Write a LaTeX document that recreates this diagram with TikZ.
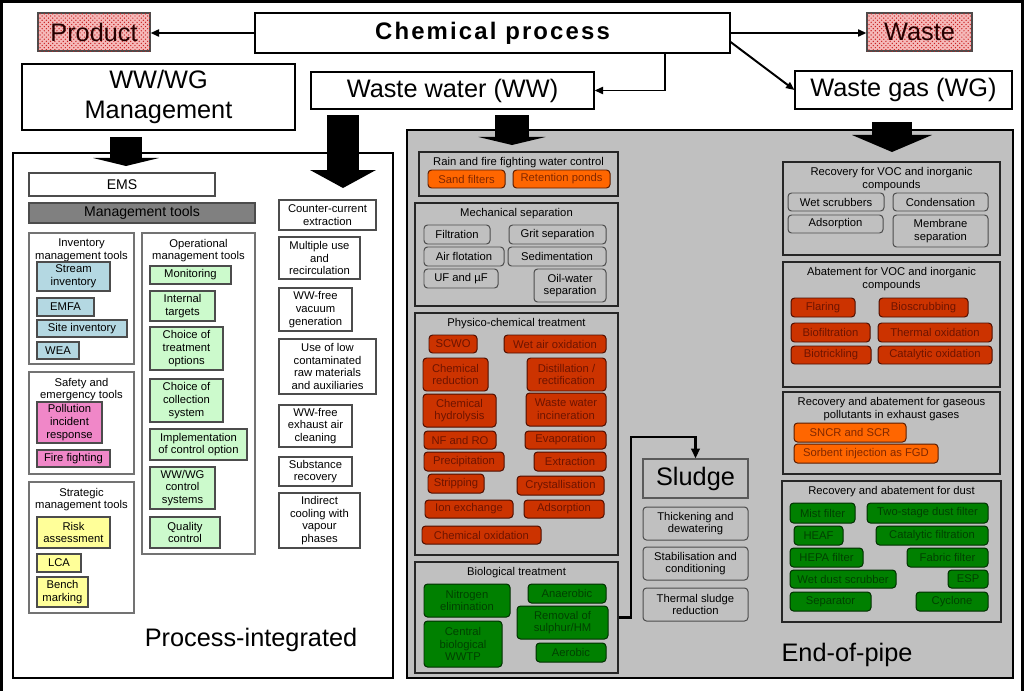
\documentclass[tikz,border=0pt]{standalone}
\usepackage{fontspec}
\setmainfont{Liberation Sans}
\usetikzlibrary{arrows.meta,patterns}

\definecolor{eopgray}{RGB}{192,192,192}
\definecolor{mgmtgray}{RGB}{128,128,128}
\definecolor{invblue}{RGB}{180,216,226}
\definecolor{safepink}{RGB}{240,135,200}
\definecolor{stratyellow}{RGB}{255,255,153}
\definecolor{opgreen}{RGB}{204,250,204}
\definecolor{eoporange}{RGB}{255,102,0}
\definecolor{eopred}{RGB}{204,51,0}
\definecolor{eopgreen}{RGB}{0,128,0}
\definecolor{orangetext}{RGB}{130,40,0}
\definecolor{redtext}{RGB}{110,20,0}
\definecolor{greentext}{RGB}{0,65,0}
\definecolor{hatchfill}{RGB}{245,185,185}
\definecolor{hatchdot}{RGB}{200,30,30}

\newcommand{\fsmall}{\fontsize{8}{9}\selectfont}
\newcommand{\fmid}{\fontsize{10}{12}\selectfont}
\newcommand{\fbig}{\fontsize{18}{21.5}\selectfont}
\newcommand{\fchem}{\fontsize{17}{19}\selectfont\bfseries\addfontfeature{LetterSpace=9}}

\tikzset{
  every node/.style={font=\fsmall, inner sep=0pt, align=center},
  spanxy/.style n args={4}{at={({(#1+#3)/2},{(#2+#4)/2})},
    minimum width={(#3-#1)*0.025cm}, minimum height={(#4-#2)*0.025cm}},
  hatchbox/.style={draw=black!70, line width=0.8pt, fill=hatchfill,
    postaction={pattern=crosshatch dots, pattern color=hatchdot},
    font=\fbig, text=black!85!red},
  plainbox/.style={draw=black, line width=0.8pt, fill=white, font=\fbig},
  pigrp/.style={draw=black!55, line width=0.8pt, fill=white},
  piitem/.style={draw=black!70, line width=0.8pt},
  eopgrp/.style={draw=black!85, line width=1.6pt, fill=eopgray},
  eopitem/.style={draw=black!70, line width=0.7pt, rounded corners=2.5pt},
  grayitem/.style={eopitem, fill=eopgray},
  orangeitem/.style={eopitem, fill=eoporange, text=orangetext, draw=orangetext!70!black},
  reditem/.style={eopitem, fill=eopred, text=redtext, draw=redtext!70!black},
  greenitem/.style={eopitem, fill=eopgreen, text=greentext, draw=greentext!70!black},
  hdr/.style={anchor=north, inner xsep=0pt, inner ysep=4.5pt},
  arr/.style={line width=1.4pt, -{Triangle[length=6pt,width=5pt]}},
  sludgearr/.style={line width=2pt, -{Triangle[length=7pt,width=6pt]}},
  blockarr/.style n args={3}{line width=#1, -{Triangle[length=#3,width=#2,line width=0pt]}}
}

\begin{document}
\begin{tikzpicture}[x=0.025cm, y=-0.025cm]
  \useasboundingbox (0,0) rectangle (1024,691);
  \draw[line width=4.3pt] (0,691) -- (0,0) -- (1024,0) -- (1024,691);

  % top row
  \node[hatchbox, spanxy={38}{13}{150}{51}] (product) {Product};
  \node[plainbox, font=\fchem, spanxy={255}{13}{730}{53}] (chem) {Chemical process};
  \node[hatchbox, spanxy={867}{13}{972}{51}] (waste) {Waste};
  \node[plainbox, spanxy={22}{64}{295}{130}] (mgmt) {WW/WG\\Management};
  \node[plainbox, spanxy={311}{72}{594}{109}] (ww) {Waste water (WW)};
  \node[plainbox, spanxy={795}{71}{1012}{109}] (wg) {Waste gas (WG)};

  \draw[arr] (chem.west) -- (chem.west -| product.east);
  \draw[arr] (chem.east) -- (chem.east -| waste.west);
  \draw[arr] ([yshift=-6.4pt]chem.east) -- (wg.west);
  \coordinate (wwdrop) at (665,0);
  \draw[arr] (chem.south -| wwdrop) |- (ww.east);

  % two main parts
  \node[draw=black, line width=1.5pt, fill=white, spanxy={13}{153}{393}{678}] (pi) {};
  \node[draw=black, line width=1.5pt, fill=eopgray, spanxy={407}{130}{1013}{678}] (eop) {};
  \node[font=\fbig] (pilabel) at (251,640) {Process-integrated};
  \node[font=\fbig] (eoplabel) at (847,655) {End-of-pipe};

  % block arrows
  \coordinate (mgmtout) at (126,137);
  \coordinate (emsin) at (126,166);
  \coordinate (wwoutpi) at (343,115);
  \coordinate (piin) at (343,188);
  \coordinate (wwouteop) at (512,115);
  \coordinate (eopin) at (512,145);
  \coordinate (wgout) at (892,122);
  \coordinate (gasin) at (892,152);
  \draw[blockarr={22.8pt}{46.9pt}{5.7pt}] (mgmtout) -- (emsin);
  \draw[blockarr={22.8pt}{46.9pt}{12.8pt}] (wwoutpi) -- (piin);
  \draw[blockarr={24.2pt}{47.7pt}{5.7pt}] (wwouteop) -- (eopin);
  \draw[blockarr={28.5pt}{56.9pt}{12.1pt}] (wgout) -- (gasin);

  % process-integrated
  \node[piitem, fill=white, font=\fmid, spanxy={29}{173}{215}{196}] (ems) {EMS};
  \node[piitem, fill=mgmtgray, font=\fmid, spanxy={29}{203}{255}{223}] (tools) {Management tools};

  \node[pigrp, spanxy={29}{233}{134}{364}] (inv) {};
  \node[hdr] (invh) at (inv.north) {Inventory\\management tools};
  \node[piitem, fill=invblue, spanxy={37}{262}{110}{291}] (stream) {Stream\\inventory};
  \node[piitem, fill=invblue, spanxy={37}{298}{94}{316}] (emfa) {EMFA};
  \node[piitem, fill=invblue, spanxy={37}{320}{127}{337}] (site) {Site inventory};
  \node[piitem, fill=invblue, spanxy={37}{342}{79}{359}] (wea) {WEA};

  \node[pigrp, spanxy={29}{372}{134}{474}] (safe) {};
  \node[hdr] (safeh) at (safe.north) {Safety and\\emergency tools};
  \node[piitem, fill=safepink, spanxy={37}{402}{102}{443}] (pollution) {Pollution\\incident\\response};
  \node[piitem, fill=safepink, spanxy={37}{450}{110}{467}] (fire) {Fire fighting};

  \node[pigrp, spanxy={29}{482}{134}{613}] (strat) {};
  \node[hdr] (strath) at (strat.north) {Strategic\\management tools};
  \node[piitem, fill=stratyellow, spanxy={37}{517}{110}{548}] (risk) {Risk\\assessment};
  \node[piitem, fill=stratyellow, spanxy={37}{554}{81}{572}] (lca) {LCA};
  \node[piitem, fill=stratyellow, spanxy={37}{577}{88}{607}] (bench) {Bench\\marking};

  \node[pigrp, spanxy={142}{233}{255}{554}] (oper) {};
  \node[hdr] (operh) at (oper.north) {Operational\\management tools};
  \node[piitem, fill=opgreen, spanxy={150}{266}{231}{284}] (monit) {Monitoring};
  \node[piitem, fill=opgreen, spanxy={150}{291}{215}{321}] (internal) {Internal\\targets};
  \node[piitem, fill=opgreen, spanxy={150}{327}{223}{370}] (choicetreat) {Choice of\\treatment\\options};
  \node[piitem, fill=opgreen, spanxy={150}{379}{223}{422}] (choicecoll) {Choice of\\collection\\system};
  \node[piitem, fill=opgreen, spanxy={150}{429}{247}{460}] (implem) {Implementation\\of control option};
  \node[piitem, fill=opgreen, spanxy={150}{467}{215}{509}] (wwwgctrl) {WW/WG\\control\\systems};
  \node[piitem, fill=opgreen, spanxy={150}{517}{220}{548}] (quality) {Quality\\control};

  \node[piitem, fill=white, spanxy={279}{200}{376}{230}] (counter) {Counter-current\\extraction};
  \node[piitem, fill=white, spanxy={279}{237}{360}{279}] (multiple) {Multiple use\\and\\recirculation};
  \node[piitem, fill=white, spanxy={279}{288}{352}{331}] (vacuum) {WW-free\\vacuum\\generation};
  \node[piitem, fill=white, spanxy={279}{339}{376}{394}] (lowcont) {Use of low\\contaminated\\raw materials\\and auxiliaries};
  \node[piitem, fill=white, spanxy={279}{405}{352}{447}] (exhaust) {WW-free\\exhaust air\\cleaning};
  \node[piitem, fill=white, spanxy={279}{457}{352}{486}] (substance) {Substance\\recovery};
  \node[piitem, fill=white, spanxy={279}{493}{360}{548}] (indirect) {Indirect\\cooling with\\vapour\\phases};

  % end-of-pipe, waste water side
  \node[eopgrp, spanxy={419}{152}{618}{196}] (rain) {};
  \node[hdr] (rainh) at (rain.north) {Rain and fire fighting water control};
  \node[orangeitem, spanxy={428}{170}{505}{188}] (sand) {Sand filters};
  \node[orangeitem, spanxy={513}{170}{610}{188}] (retention) {Retention ponds};

  \node[eopgrp, spanxy={415}{203}{618}{306}] (mech) {};
  \node[hdr] (mechh) at (mech.north) {Mechanical separation};
  \node[grayitem, spanxy={424}{225}{490}{244}] (filtration) {Filtration};
  \node[grayitem, spanxy={509}{225}{606}{244}] (grit) {Grit separation};
  \node[grayitem, spanxy={424}{247}{504}{266}] (airflot) {Air flotation};
  \node[grayitem, spanxy={508}{247}{606}{266}] (sedim) {Sedimentation};
  \node[grayitem, spanxy={424}{269}{498}{288}] (ufmf) {UF and µF};
  \node[grayitem, spanxy={534}{269}{606}{302}] (oilwater) {Oil-water\\separation};

  \node[eopgrp, spanxy={415}{313}{618}{555}] (phys) {};
  \node[hdr] (physh) at (phys.north) {Physico-chemical treatment};
  \node[reditem, spanxy={429}{335}{477}{353}] (scwo) {SCWO};
  \node[reditem, spanxy={504}{335}{606}{353}] (wetair) {Wet air oxidation};
  \node[reditem, spanxy={423}{358}{488}{391}] (chemred) {Chemical\\reduction};
  \node[reditem, spanxy={527}{358}{606}{391}] (distil) {Distillation /\\rectification};
  \node[reditem, spanxy={423}{394}{496}{427}] (chemhyd) {Chemical\\hydrolysis};
  \node[reditem, spanxy={526}{393}{606}{426}] (wwincin) {Waste water\\incineration};
  \node[reditem, spanxy={424}{431}{496}{449}] (nfro) {NF and RO};
  \node[reditem, spanxy={525}{431}{606}{449}] (evap) {Evaporation};
  \node[reditem, spanxy={424}{452}{504}{471}] (precip) {Precipitation};
  \node[reditem, spanxy={534}{452}{606}{471}] (extract) {Extraction};
  \node[reditem, spanxy={428}{474}{484}{493}] (strip) {Stripping};
  \node[reditem, spanxy={517}{476}{604}{495}] (cryst) {Crystallisation};
  \node[reditem, spanxy={425}{500}{513}{518}] (ionex) {Ion exchange};
  \node[reditem, spanxy={524}{500}{604}{518}] (adsorb) {Adsorption};
  \node[reditem, spanxy={422}{526}{541}{544}] (chemox) {Chemical oxidation};

  \node[eopgrp, spanxy={415}{562}{618}{673}] (bio) {};
  \node[hdr] (bioh) at (bio.north) {Biological treatment};
  \node[greenitem, spanxy={424}{584}{510}{617}] (nitro) {Nitrogen\\elimination};
  \node[greenitem, spanxy={528}{584}{606}{603}] (anaer) {Anaerobic};
  \node[greenitem, spanxy={517}{606}{608}{639}] (sulphur) {Removal of\\sulphur/HM};
  \node[greenitem, spanxy={424}{621}{502}{667}] (central) {Central\\biological\\WWTP};
  \node[greenitem, spanxy={536}{643}{606}{662}] (aerobic) {Aerobic};

  % sludge
  \node[draw=black!65, line width=0.8pt, fill=eopgray, font=\fbig, spanxy={643}{459}{748}{498}] (sludge) {Sludge};
  \node[grayitem, spanxy={643}{507}{748}{540}] (thick) {Thickening and\\dewatering};
  \node[grayitem, spanxy={643}{547}{748}{580}] (stab) {Stabilisation and\\conditioning};
  \node[grayitem, spanxy={643}{588}{748}{621}] (thermal) {Thermal sludge\\reduction};
  \coordinate (sludgeturn) at (631,437);
  \draw[sludgearr] (bio.east) -| (sludgeturn) -| (sludge.north);

  % end-of-pipe, waste gas side
  \node[eopgrp, spanxy={783}{162}{1000}{255}] (recvoc) {};
  \node[hdr] (recvoch) at (recvoc.north) {Recovery for VOC and inorganic\\compounds};
  \node[grayitem, spanxy={788}{193}{884}{211}] (wetscrub) {Wet scrubbers};
  \node[grayitem, spanxy={893}{193}{988}{211}] (conden) {Condensation};
  \node[grayitem, spanxy={788}{215}{883}{233}] (adsorp) {Adsorption};
  \node[grayitem, spanxy={893}{215}{988}{247}] (membrane) {Membrane\\separation};

  \node[eopgrp, spanxy={783}{262}{1000}{387}] (abvoc) {};
  \node[hdr] (abvoch) at (abvoc.north) {Abatement for VOC and inorganic\\compounds};
  \node[reditem, spanxy={791}{298}{855}{317}] (flaring) {Flaring};
  \node[reditem, spanxy={879}{298}{968}{317}] (bioscrub) {Bioscrubbing};
  \node[reditem, spanxy={791}{323}{870}{342}] (biofilt) {Biofiltration};
  \node[reditem, spanxy={878}{323}{992}{342}] (thermox) {Thermal oxidation};
  \node[reditem, spanxy={791}{346}{871}{364}] (biotrick) {Biotrickling};
  \node[reditem, spanxy={878}{346}{992}{364}] (catox) {Catalytic oxidation};

  \node[eopgrp, spanxy={783}{392}{1000}{474}] (gaspol) {};
  \node[hdr] (gaspolh) at (gaspol.north) {Recovery and abatement for gaseous\\pollutants in exhaust gases};
  \node[orangeitem, spanxy={794}{423}{906}{442}] (sncr) {SNCR and SCR};
  \node[orangeitem, spanxy={794}{444}{938}{463}] (sorbent) {Sorbent injection as FGD};

  \node[eopgrp, spanxy={782}{481}{1001}{622}] (dust) {};
  \node[hdr] (dusth) at (dust.north) {Recovery and abatement for dust};
  \node[greenitem, spanxy={790}{503}{855}{523}] (mist) {Mist filter};
  \node[greenitem, spanxy={867}{503}{988}{523}] (twostage) {Two-stage dust filter};
  \node[greenitem, spanxy={794}{526}{843}{545}] (heaf) {HEAF};
  \node[greenitem, spanxy={876}{526}{988}{545}] (catfilt) {Catalytic filtration};
  \node[greenitem, spanxy={790}{548}{863}{567}] (hepa) {HEPA filter};
  \node[greenitem, spanxy={907}{548}{988}{567}] (fabric) {Fabric filter};
  \node[greenitem, spanxy={790}{570}{896}{588}] (wetdust) {Wet dust scrubber};
  \node[greenitem, spanxy={948}{570}{988}{588}] (esp) {ESP};
  \node[greenitem, spanxy={790}{592}{871}{611}] (separator) {Separator};
  \node[greenitem, spanxy={916}{592}{988}{611}] (cyclone) {Cyclone};
\end{tikzpicture}
\end{document}
